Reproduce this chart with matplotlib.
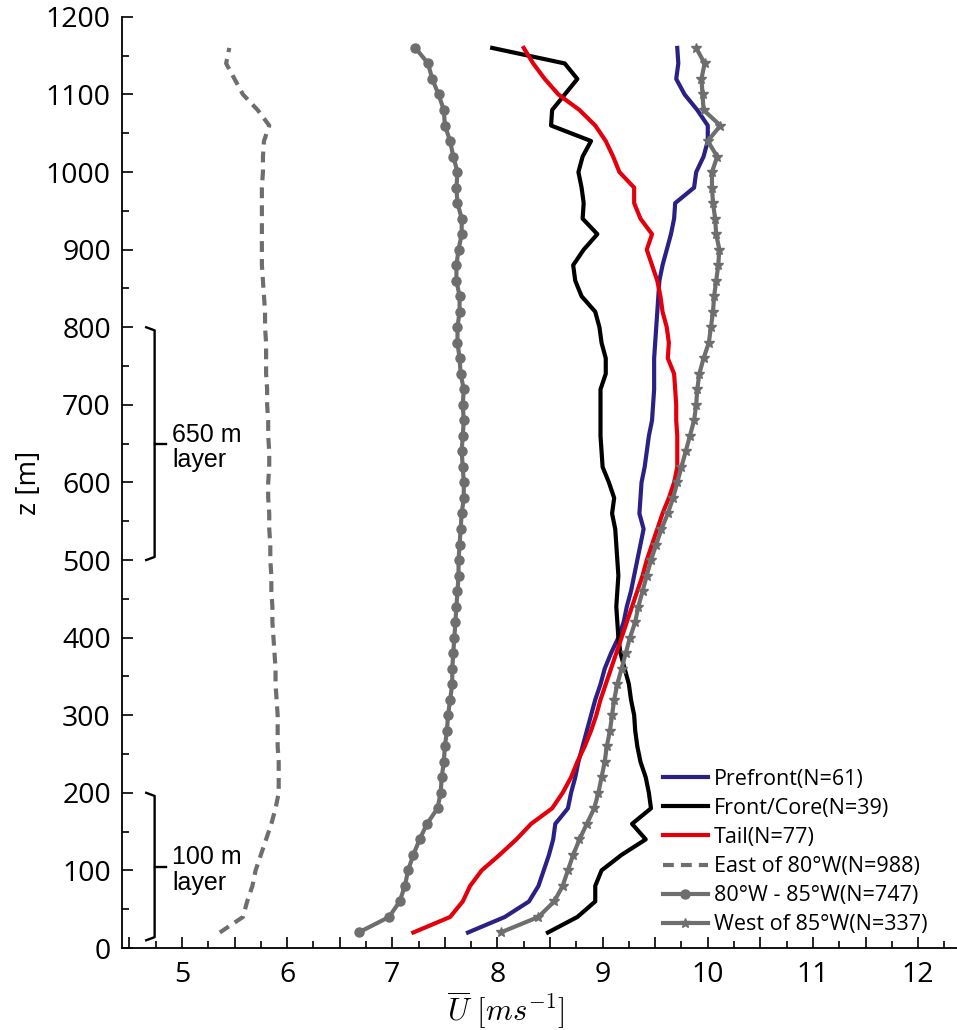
import matplotlib
matplotlib.use('Agg')
import matplotlib.pyplot as plt
from matplotlib.ticker import MultipleLocator, FuncFormatter

# heights of the profile levels [m]
heights = [20, 40, 60, 80, 100, 120, 140, 160, 180, 200,
           220, 240, 260, 280, 300, 320, 340, 360, 380, 400,
           420, 440, 460, 480, 500, 520, 540, 560, 580, 600,
           620, 640, 660, 680, 700, 720, 740, 760, 780, 800,
           820, 840, 860, 880, 900, 920, 940, 960, 980, 1000,
           1020, 1040, 1060, 1080, 1100, 1120, 1140, 1160]

prefront = [7.72, 8.07, 8.30, 8.39, 8.44, 8.49, 8.53, 8.55, 8.67, 8.70,
            8.74, 8.77, 8.81, 8.85, 8.89, 8.93, 8.98, 9.02, 9.08, 9.15,
            9.20, 9.23, 9.27, 9.30, 9.33, 9.36, 9.39, 9.35, 9.36, 9.37,
            9.40, 9.42, 9.44, 9.47, 9.48, 9.49, 9.49, 9.49, 9.50, 9.51,
            9.52, 9.53, 9.54, 9.57, 9.61, 9.65, 9.68, 9.69, 9.87, 9.89,
            9.96, 10.00, 10.00, 9.90, 9.78, 9.70, 9.72, 9.71]

front_core = [8.48, 8.76, 8.93, 8.93, 8.99, 9.18, 9.41, 9.28, 9.46, 9.44,
              9.41, 9.36, 9.33, 9.31, 9.30, 9.27, 9.25, 9.21, 9.17, 9.15,
              9.14, 9.13, 9.14, 9.15, 9.14, 9.13, 9.12, 9.09, 9.11, 9.06,
              9.00, 8.99, 8.98, 8.98, 8.98, 8.98, 9.03, 9.03, 8.99, 8.97,
              8.93, 8.80, 8.74, 8.72, 8.82, 8.95, 8.81, 8.82, 8.80, 8.77,
              8.81, 8.89, 8.51, 8.52, 8.64, 8.76, 8.64, 7.95]

tail = [7.20, 7.55, 7.67, 7.74, 7.85, 8.02, 8.18, 8.32, 8.52, 8.62,
        8.70, 8.76, 8.83, 8.89, 8.94, 8.98, 9.03, 9.08, 9.13, 9.18,
        9.23, 9.28, 9.33, 9.38, 9.42, 9.47, 9.52, 9.57, 9.63, 9.68,
        9.71, 9.71, 9.71, 9.70, 9.70, 9.69, 9.68, 9.62, 9.63, 9.61,
        9.57, 9.55, 9.52, 9.47, 9.42, 9.47, 9.36, 9.30, 9.30, 9.16,
        9.10, 9.03, 8.93, 8.78, 8.58, 8.45, 8.34, 8.25]

east_80w = [5.36, 5.58, 5.62, 5.67, 5.70, 5.75, 5.80, 5.85, 5.89, 5.92,
            5.92, 5.92, 5.91, 5.91, 5.91, 5.90, 5.89, 5.89, 5.88, 5.87,
            5.86, 5.86, 5.85, 5.85, 5.84, 5.84, 5.83, 5.83, 5.82, 5.82,
            5.83, 5.83, 5.82, 5.82, 5.81, 5.81, 5.80, 5.80, 5.80, 5.79,
            5.79, 5.78, 5.77, 5.76, 5.76, 5.76, 5.76, 5.76, 5.76, 5.77,
            5.77, 5.78, 5.83, 5.72, 5.58, 5.50, 5.42, 5.45]

w80_85 = [6.68, 6.97, 7.07, 7.12, 7.15, 7.20, 7.26, 7.33, 7.43, 7.46,
          7.47, 7.49, 7.50, 7.52, 7.53, 7.55, 7.57, 7.57, 7.58, 7.59,
          7.60, 7.61, 7.62, 7.63, 7.63, 7.64, 7.65, 7.66, 7.68, 7.68,
          7.67, 7.66, 7.67, 7.68, 7.67, 7.68, 7.65, 7.64, 7.62, 7.62,
          7.64, 7.64, 7.61, 7.61, 7.63, 7.66, 7.66, 7.62, 7.61, 7.62,
          7.58, 7.55, 7.50, 7.49, 7.44, 7.38, 7.34, 7.22]

west_85w = [8.03, 8.39, 8.54, 8.62, 8.67, 8.72, 8.78, 8.85, 8.92, 8.96,
            8.99, 9.02, 9.04, 9.07, 9.09, 9.11, 9.14, 9.18, 9.22, 9.26,
            9.31, 9.34, 9.38, 9.42, 9.46, 9.51, 9.56, 9.62, 9.67, 9.71,
            9.75, 9.79, 9.83, 9.87, 9.89, 9.90, 9.92, 9.96, 10.01, 10.03,
            10.05, 10.06, 10.08, 10.10, 10.11, 10.08, 10.07, 10.05, 10.04, 10.04,
            10.09, 10.00, 10.12, 9.96, 9.95, 9.94, 9.97, 9.89]

labels = ['Prefront(N=61)', 'Front/Core(N=39)', 'Tail(N=77)',
          'East of 80°W(N=988)', '80°W - 85°W(N=747)', 'West of 85°W(N=337)']

# layers marked with brackets: (bottom, top, text)
layers = [(10, 200, '100 m\nlayer'), (500, 800, '650 m\nlayer')]

plt.rcParams['font.family'] = ['Open Sans', 'DejaVu Sans']
plt.rcParams['mathtext.fontset'] = 'cm'

grey = '#6e6e6e'
fig = plt.figure(figsize=(9.57, 10.30), dpi=100)
ax = fig.add_axes([0.1275, 0.0796, 0.8725, 0.904])

lw = 3.0
ax.plot(prefront, heights, color='#2b2185', lw=lw, label=labels[0])
ax.plot(front_core, heights, color='black', lw=lw, label=labels[1])
ax.plot(tail, heights, color='#e3000b', lw=lw, label=labels[2])
ax.plot(east_80w, heights, color=grey, lw=lw, ls=(0, (2.6, 1.7)), label=labels[3])
ax.plot(w80_85, heights, color=grey, lw=lw, marker='o', ms=6.5, label=labels[4])
ax.plot(west_85w, heights, color=grey, lw=lw, marker='*', ms=7.5, label=labels[5])

ax.set_xlim(4.43, 12.37)
ax.set_ylim(0, 1200)
ax.xaxis.set_major_locator(MultipleLocator(0.5))
ax.xaxis.set_minor_locator(MultipleLocator(0.25))
ax.xaxis.set_major_formatter(FuncFormatter(lambda v, p: '%d' % v if abs(v - round(v)) < 1e-6 else ''))
ax.yaxis.set_major_locator(MultipleLocator(100))
ax.yaxis.set_minor_locator(MultipleLocator(50))
ax.tick_params(which='both', direction='in', labelsize=20.5, width=1.2)
ax.tick_params(which='major', length=8)
ax.tick_params(which='minor', length=5)
ax.tick_params(axis='x', pad=9)
ax.tick_params(axis='y', pad=8)
for s in ['top', 'right']:
    ax.spines[s].set_visible(False)
for s in ['left', 'bottom']:
    ax.spines[s].set_linewidth(1.3)

ax.set_xlabel(r'$\overline{U}\ [ms^{-1}]$', fontsize=22)
ax.xaxis.set_label_coords(0.46, -0.045, transform=ax.transAxes)
ax.xaxis.label.set_va('top')
ax.set_ylabel('z [m]', fontsize=20, labelpad=2)

# brackets for the layers
xv, xtip, xnub = 4.74, 4.66, 4.85
for bot, top, txt in layers:
    mid = (bot + top) / 2
    ax.plot([xtip, xv, xv, xtip], [top, top - 4, bot + 4, bot], color='black', lw=1.7,
            solid_joinstyle='round', clip_on=False)
    ax.plot([xv, xnub], [mid, mid], color='black', lw=1.7)
    ax.text(4.91, mid - 5, txt, fontsize=18, ha='left', va='center',
            family=['Liberation Sans', 'DejaVu Sans'], linespacing=1.1)

leg = ax.legend(loc='upper left', bbox_to_anchor=(0.637, 0.202), frameon=False,
                fontsize=15.5, handlelength=2.1, handletextpad=0.3, labelspacing=0.38,
                borderaxespad=0)

fig.savefig('out.png', dpi=100)
